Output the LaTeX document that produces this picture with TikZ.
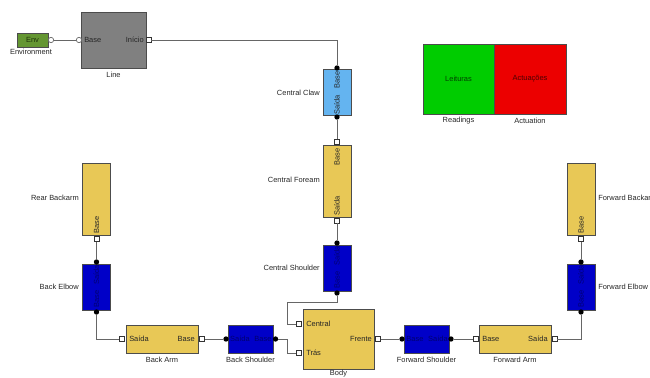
\documentclass[tikz,border=0pt]{standalone}
\usepackage{fontspec}
\setmainfont{Liberation Sans}
\begin{document}
\begin{tikzpicture}[x=0.75pt,y=-0.75pt,
  font=\fontsize{5.6}{6.4}\selectfont,
  blk/.style={draw=black!70, line width=0.5pt, inner sep=0pt},
  yel/.style={blk, fill={rgb,255:red,232;green,200;blue,86}},
  blu/.style={blk, fill={rgb,255:red,0;green,0;blue,200}},
  lblu/.style={blk, fill={rgb,255:red,100;green,180;blue,240}},
  hbox/.style={minimum width=54pt, minimum height=21pt},
  vbox/.style={minimum width=21pt, minimum height=54pt},
  hsm/.style={minimum width=33.75pt, minimum height=21pt},
  vsm/.style={minimum width=21pt, minimum height=34.5pt},
  portsq/.style={draw=black!80, fill=white, line width=0.4pt, minimum size=3.6pt, inner sep=0pt},
  dotp/.style={circle, fill=black, minimum size=4pt, inner sep=0pt},
  opencirc/.style={circle, draw=black!60, fill=white, line width=0.5pt, minimum size=4pt, inner sep=0pt},
  wire/.style={draw=black!60, line width=0.6pt},
  lab/.style={text=black!85, inner sep=0pt},
  inlab/.style={text=black!85, inner sep=0pt},
  bluelab/.style={text={rgb,255:red,0;green,0;blue,110}, inner sep=0pt}
]
\useasboundingbox (0,0) rectangle (650,378);

% Environment
\node[blk, fill={rgb,255:red,100;green,150;blue,50}, minimum width=23.25pt, minimum height=10.5pt] (env) at (32.5,40) {};
\node[text={rgb,255:red,30;green,50;blue,10}, inner sep=0pt] (envt) at (32.5,40) {Env};
\node[lab] (envl) at (31,52) {Environment};
\node[opencirc] (envp) at (51,40) {};

% Line
\node[blk, fill=black!50, minimum width=48.75pt, minimum height=42pt] (line) at (113.5,40) {};
\node[lab] (linel) at (113.5,75) {Line};
\node[opencirc] (lineb) at (79,40) {};
\node[portsq] (linei) at (148.5,40) {};
\node[inlab, anchor=west] (linebt) at (84,40) {Base};
\node[inlab, anchor=east] (lineit) at (144,40) {Início};

% Readings / Actuation
\node[blk, fill={rgb,255:red,0;green,204;blue,0}, minimum width=53.25pt, minimum height=52.5pt] (rd) at (458.5,79) {};
\node[blk, fill={rgb,255:red,236;green,0;blue,0}, minimum width=54pt, minimum height=52.5pt] (ac) at (530,79) {};
\node[inlab, text=black!75!green] (rdt) at (458.5,79) {Leituras};
\node[inlab, text=black!70!red] (act) at (530,79) {Actuações};
\node[lab] (rdl) at (458.5,121) {Readings};
\node[lab] (acl) at (530,121) {Actuation};

% Central Claw
\node[lblu, vsm] (claw) at (337,92.5) {};
\node[lab, anchor=east] (clawl) at (320,92.5) {Central Claw};
\node[inlab, rotate=90] (clawb) at (337,80) {Base};
\node[inlab, rotate=90] (claws) at (337,105) {Saída};
\node[dotp] (clawtop) at (337,68) {};
\node[dotp] (clawbot) at (337,117) {};

% Central Forearm
\node[yel, vbox] (cfa) at (337,181) {};
\node[lab, anchor=east] (cfal) at (320,180) {Central Foream};
\node[inlab, rotate=90] (cfab) at (337,157) {Base};
\node[inlab, rotate=90] (cfas) at (337,206) {Saída};
\node[portsq] (cfatop) at (337,141.5) {};
\node[portsq] (cfabot) at (337,220.5) {};

% Central Shoulder
\node[blu, vsm] (csh) at (337,268) {};
\node[lab, anchor=east] (cshl) at (320,268) {Central Shoulder};
\node[bluelab, rotate=90] (csht) at (337,256) {Saída};
\node[bluelab, rotate=90] (cshb) at (337,280) {Base};
\node[dotp] (cshtop) at (337,243) {};
\node[dotp] (cshbot) at (337,293) {};

% Body
\node[yel, minimum width=53.25pt, minimum height=45pt] (body) at (338.5,339) {};
\node[lab] (bodyl) at (338.5,374) {Body};
\node[inlab, anchor=west] (bodyc) at (306,324) {Central};
\node[inlab, anchor=west] (bodyt) at (306,353) {Trás};
\node[inlab, anchor=east] (bodyf) at (372,339) {Frente};
\node[portsq] (bodycp) at (298.5,324) {};
\node[portsq] (bodytp) at (298.5,353) {};
\node[portsq] (bodyfp) at (378,339) {};

% Back Shoulder
\node[blu, hsm] (bsh) at (250.5,339) {};
\node[lab] (bshl) at (250.5,360) {Back Shoulder};
\node[bluelab] (bsht1) at (240,339) {Saída};
\node[bluelab] (bsht2) at (263,339) {Base};
\node[dotp] (bshl0) at (226,339) {};
\node[dotp] (bshr) at (275.5,339) {};

% Back Arm
\node[yel, hbox] (barm) at (162,339) {};
\node[lab] (barml) at (162,360) {Back Arm};
\node[inlab, anchor=west] (barmt1) at (129,339) {Saída};
\node[inlab, anchor=east] (barmt2) at (195,339) {Base};
\node[portsq] (barmlp) at (122,339) {};
\node[portsq] (barmrp) at (202,339) {};

% Back Elbow
\node[blu, vsm] (bel) at (96.5,287) {};
\node[lab, anchor=east] (bell) at (79,287) {Back Elbow};
\node[bluelab, rotate=90] (belt1) at (96.5,275) {Saída};
\node[bluelab, rotate=90] (belt2) at (96.5,299) {Base};
\node[dotp] (beltop) at (96.5,262) {};
\node[dotp] (belbot) at (96.5,312) {};

% Rear Backarm
\node[yel, vbox] (rba) at (96.5,199) {};
\node[lab, anchor=east] (rbal) at (79,198) {Rear Backarm};
\node[inlab, rotate=90] (rbat) at (96.5,225) {Base};
\node[portsq] (rbap) at (96.5,239) {};

% Forward Shoulder
\node[blu, hsm] (fsh) at (426.5,339) {};
\node[lab] (fshl) at (426.5,360) {Forward Shoulder};
\node[bluelab] (fsht1) at (415,339) {Base};
\node[bluelab] (fsht2) at (438,339) {Saída};
\node[dotp] (fshl0) at (402,339) {};
\node[dotp] (fshr) at (451,339) {};

% Forward Arm
\node[yel, hbox] (farm) at (515,339) {};
\node[lab] (farml) at (515,360) {Forward Arm};
\node[inlab, anchor=west] (farmt1) at (482,339) {Base};
\node[inlab, anchor=east] (farmt2) at (548,339) {Saída};
\node[portsq] (farmlp) at (475.5,339) {};
\node[portsq] (farmrp) at (554.5,339) {};

% Forward Elbow
\node[blu, vsm] (fel) at (581,287) {};
\node[lab, anchor=west] (fell) at (598,287) {Forward Elbow};
\node[bluelab, rotate=90] (felt1) at (581,275) {Saída};
\node[bluelab, rotate=90] (felt2) at (581,299) {Base};
\node[dotp] (feltop) at (581,262) {};
\node[dotp] (felbot) at (581,312) {};

% Forward Backarm
\node[yel, vbox] (fba) at (581,199) {};
\node[lab, anchor=west] (fbal) at (598,198) {Forward Backarm};
\node[inlab, rotate=90] (fbat) at (581,225) {Base};
\node[portsq] (fbap) at (581,239) {};

% bend points
\coordinate (b1) at (287,302);
\coordinate (b2) at (287,339);

% connectors
\draw[wire] (envp) -- (lineb);
\draw[wire] (linei) -| (clawtop);
\draw[wire] (clawbot) -- (cfatop);
\draw[wire] (cfabot) -- (cshtop);
\draw[wire] (cshbot) |- (b1) |- (bodycp);
\draw[wire] (bshr) -- (b2) |- (bodytp);
\draw[wire] (barmrp) -- (bshl0);
\draw[wire] (belbot) |- (barmlp);
\draw[wire] (rbap) -- (beltop);
\draw[wire] (bodyfp) -- (fshl0);
\draw[wire] (fshr) -- (farmlp);
\draw[wire] (farmrp) -| (felbot);
\draw[wire] (fbap) -- (feltop);
\end{tikzpicture}
\end{document}
